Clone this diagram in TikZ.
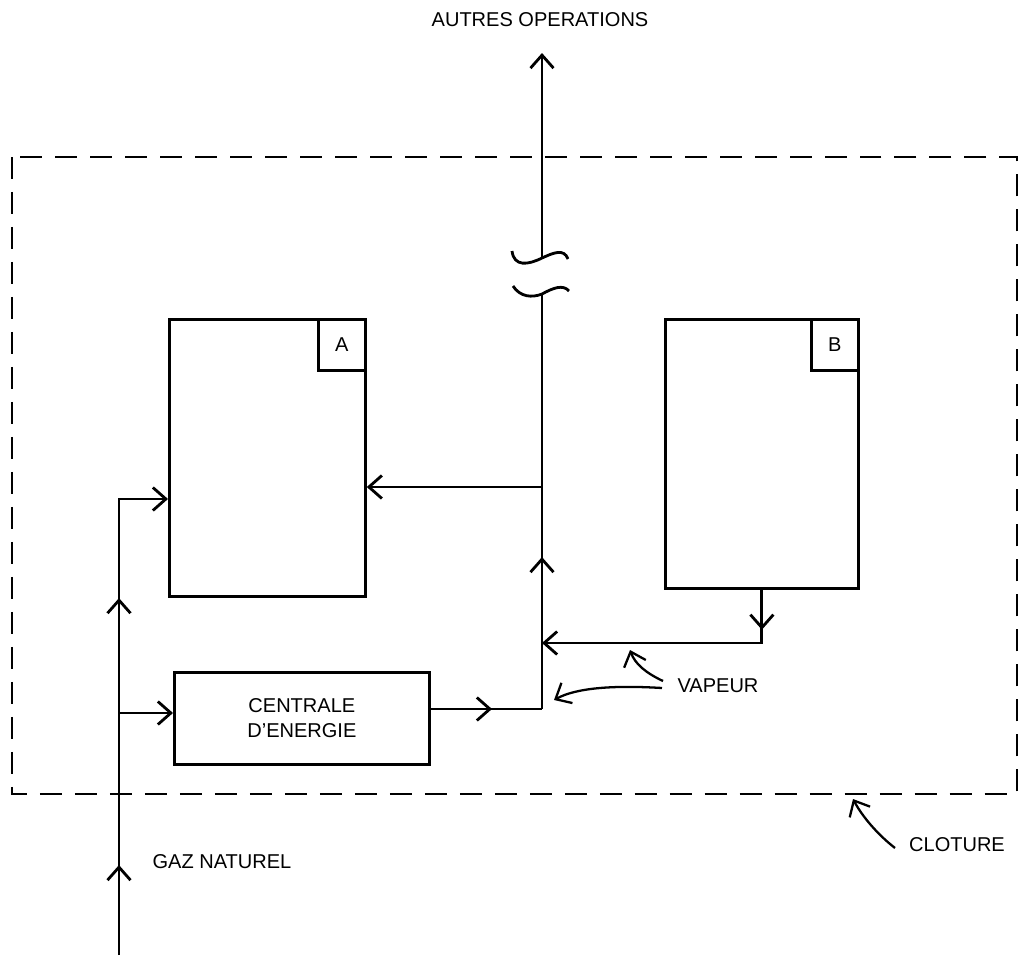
\documentclass[tikz,border=0pt]{standalone}
\usepackage{fontspec}
\setmainfont{Liberation Sans}
\usetikzlibrary{arrows.meta, positioning, decorations.markings}
\tikzstyle{unit}  = [rectangle, draw=black, line width=1.6pt, inner sep=0pt, anchor=north west]
\tikzstyle{tag}   = [rectangle, draw=black, line width=1.6pt, inner sep=0pt,
                     minimum width=0.94cm, minimum height=1.02cm, anchor=north east]
\tikzstyle{pipe}  = [line width=1.6pt, line join=miter]
\tikzstyle{arrow} = [pipe, ->]
\tikzstyle{txt}   = [font=\fontsize{11.4}{14}\selectfont, align=center]
\tikzset{
  midarrow/.style={postaction={decorate},
    decoration={markings, mark=at position #1 with {\arrow{>}}}},
  twoarrows/.style 2 args={postaction={decorate},
    decoration={markings, mark=at position #1 with {\arrow{>}},
                          mark=at position #2 with {\arrow{>}}}}
}

\begin{document}
\begin{tikzpicture}[x=0.02cm, y=-0.02cm, >={Straight Barb[length=2.6mm, width=4.6mm]}]
  \useasboundingbox (0,0) rectangle (1022,957);

  % Cloture
  \draw[line width=1.2pt, dash pattern=on 0.44cm off 0.26cm] (12,157) rectangle (1017,794);

  % Units
  \node (A) [unit, minimum width=3.92cm, minimum height=5.54cm] at (168,318) {};
  \node (tA) [tag, txt] at (A.north east) {A};
  \node (B) [unit, minimum width=3.86cm, minimum height=5.38cm] at (664,318) {};
  \node (tB) [tag, txt] at (B.north east) {B};
  \node (C) [unit, txt, minimum width=5.1cm, minimum height=1.84cm] at (173,671) {CENTRALE\\D'ENERGIE};

  % Labels
  \node (autres) [txt] at (540,20)  {AUTRES OPERATIONS};
  \node (vap)    [txt] at (718,686) {VAPEUR};
  \node (clot)   [txt] at (957,845) {CLOTURE};
  \node (gaz)    [txt] at (222,862) {GAZ NATUREL};

  % Points on the lines
  \coordinate (gin) at (119,955);
  \coordinate (g1)  at (119,713);
  \coordinate (g2)  at (119,499);
  \coordinate (c1)  at (428,709);
  \coordinate (j0)  at (542,709);
  \coordinate (j1)  at (542,643);
  \coordinate (j2)  at (542,487);
  \coordinate (j3)  at (542,295);
  \coordinate (j4)  at (542,257);
  \coordinate (top) at (542,53);
  \coordinate (b1)  at (B.south |- j1);

  % Gaz naturel
  \draw[arrow, twoarrows={1.8cm}{7.14cm}] (gin) -- (g2) -- (A.west |- g2);
  \draw[arrow] (g1) -- (C.west |- g1);

  % Vapeur
  \draw[pipe, midarrow=1.28cm] (c1) -- (j0);
  \draw[pipe, midarrow=3.04cm] (j0) -- (j3);
  \draw[arrow] (j4) -- (top);
  \draw[arrow] (j2) -- (A.east |- j2);
  \draw[arrow, midarrow=0.8cm] (B.south) -- (b1) -- (j1);

  % Break
  \draw[line width=1.6pt] (512,251) .. controls (514,267) and (528,265) .. (542,258)
                                    .. controls (553,253) and (564,248) .. (568,259);
  \draw[line width=1.6pt] (513,286) .. controls (520,297) and (532,298) .. (542,294)
                                    .. controls (553,288) and (563,284) .. (569,291);

  % Pointers
  \coordinate (v1) at (663,681);
  \coordinate (v2) at (662,688);
  \coordinate (k1) at (630,650);
  \coordinate (k2) at (554,700);
  \coordinate (l1) at (895,848);
  \coordinate (l2) at (853,799);
  \draw[line width=1.3pt, ->] (v1) .. controls (646,673) and (635,664) .. (k1);
  \draw[line width=1.3pt, ->] (v2) .. controls (612,685) and (576,688) .. (k2);
  \draw[line width=1.3pt, ->] (l1) .. controls (877,834) and (862,816) .. (l2);

\end{tikzpicture}
\end{document}
